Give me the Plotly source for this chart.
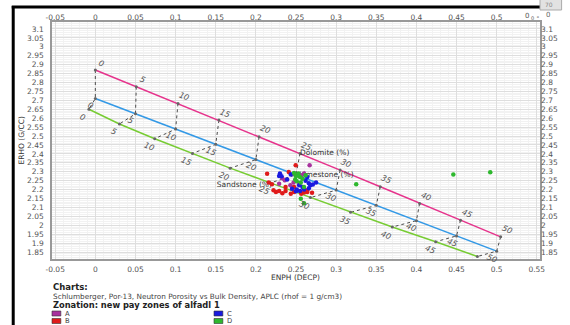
import plotly.graph_objects as go

# ---------------- data ----------------
phi_labels = ["0", "5", "10", "15", "20", "25", "30", "35", "40", "45", "50"]

dol_nphi = [0.0, 0.051, 0.103, 0.154, 0.204, 0.255, 0.305, 0.355, 0.404, 0.455, 0.505]
dol_rhob = [2.87, 2.7765, 2.683, 2.5895, 2.496, 2.4025, 2.309, 2.2155, 2.122, 2.0285, 1.935]

lime_nphi = [0.0, 0.05, 0.10, 0.15, 0.20, 0.25, 0.30, 0.35, 0.40, 0.45, 0.50]
lime_rhob = [2.71, 2.6245, 2.539, 2.4535, 2.368, 2.2825, 2.197, 2.1115, 2.026, 1.9405, 1.855]

sand_nphi = [-0.008, 0.030, 0.074, 0.121, 0.168, 0.218, 0.268, 0.318, 0.370, 0.424, 0.476]
sand_rhob = [2.65, 2.5675, 2.485, 2.4025, 2.32, 2.2375, 2.155, 2.0725, 1.99, 1.9075, 1.825]

zone_a_x = [0.267, 0.260, 0.236, 0.229, 0.254, 0.243, 0.233, 0.257, 0.247]
zone_a_y = [2.336, 2.290, 2.252, 2.233, 2.230, 2.224, 2.263, 2.280, 2.240]

zone_b_x = [0.2496, 0.214, 0.241, 0.222, 0.225, 0.229, 0.233, 0.237, 0.2435, 0.2476,
            0.2565, 0.264, 0.220, 0.237, 0.2476, 0.264, 0.260, 0.270, 0.216]
zone_b_y = [2.336, 2.289, 2.298, 2.196, 2.186, 2.192, 2.180, 2.192, 2.177, 2.186,
            2.177, 2.186, 2.230, 2.214, 2.214, 2.196, 2.183, 2.182, 2.240]

zone_c_x = [0.230, 0.232, 0.2435, 0.264, 0.239, 0.266, 0.271, 0.251, 0.255, 0.260,
            0.268, 0.266, 0.254, 0.258, 0.229, 0.245, 0.250, 0.262, 0.275]
zone_c_y = [2.290, 2.274, 2.284, 2.270, 2.257, 2.235, 2.229, 2.200, 2.192, 2.200,
            2.224, 2.207, 2.224, 2.214, 2.276, 2.205, 2.190, 2.250, 2.240]

zone_d_x = [0.2476, 0.255, 0.249, 0.251, 0.256, 0.260, 0.253, 0.258, 0.262, 0.250,
            0.256, 0.260, 0.325, 0.446, 0.492]
zone_d_y = [2.293, 2.270, 2.257, 2.246, 2.149, 2.124, 2.290, 2.260, 2.280, 2.275,
            2.240, 2.215, 2.230, 2.285, 2.297]

x_ticks = [-0.05, 0, 0.05, 0.1, 0.15, 0.2, 0.25, 0.3, 0.35, 0.4, 0.45, 0.5, 0.55]
x_tick_text = ["-0.05", "0", "0.05", "0.1", "0.15", "0.2", "0.25", "0.3", "0.35", "0.4", "0.45", "0.5", "0.55"]
x_top_ticks = [-0.05, 0, 0.05, 0.1, 0.15, 0.2, 0.25, 0.3, 0.35, 0.4, 0.45, 0.5]
x_top_text = ["-0.05", "0", "0.05", "0.1", "0.15", "0.2", "0.25", "0.3", "0.35", "0.4", "0.45", "0.5"]
y_ticks = [1.85, 1.9, 1.95, 2.0, 2.05, 2.1, 2.15, 2.2, 2.25, 2.3, 2.35, 2.4, 2.45, 2.5,
           2.55, 2.6, 2.65, 2.7, 2.75, 2.8, 2.85, 2.9, 2.95, 3.0, 3.05, 3.1]
y_tick_text = ["1.85", "1.9", "1.95", "2", "2.05", "2.1", "2.15", "2.2", "2.25", "2.3", "2.35",
               "2.4", "2.45", "2.5", "2.55", "2.6", "2.65", "2.7", "2.75", "2.8", "2.85", "2.9",
               "2.95", "3", "3.05", "3.1"]

zone_names = ["A", "B", "C", "D"]
zone_colors = ["#a8329e", "#e01b1b", "#1a1ae0", "#2eb82e"]

# ---------------- layout helpers ----------------
W, H = 570, 325
L, R, T, B = 52, 549, 22, 259


def px(x):
    return (x - L) / (R - L)


def py(y):
    return (B - y) / (B - T)


FONT = "DejaVu Sans"
fig = go.Figure()

# connectors (dotted)
cx, cy = [], []
for i in range(len(phi_labels)):
    cx += [dol_nphi[i], lime_nphi[i], sand_nphi[i], None]
    cy += [dol_rhob[i], lime_rhob[i], sand_rhob[i], None]
fig.add_trace(go.Scatter(x=cx, y=cy, mode="lines", line=dict(color="#4d4d4d", width=1, dash="dot"),
                         hoverinfo="skip", showlegend=False))

# lithology lines
for xs, ys, col in [(dol_nphi, dol_rhob, "#e6338c"),
                    (lime_nphi, lime_rhob, "#3399e6"),
                    (sand_nphi, sand_rhob, "#77cc33")]:
    fig.add_trace(go.Scatter(x=xs, y=ys, mode="lines+markers", line=dict(color=col, width=1.5),
                             marker=dict(size=3, color="#666666"), hoverinfo="skip", showlegend=False))

# lithology names (as text traces so points can sit over them)
fig.add_trace(go.Scatter(x=[dol_nphi[5]], y=[dol_rhob[5]], mode="text", text=["Dolomite (%)"],
                         textposition="middle right", textfont=dict(family=FONT, size=7.5, color="#333"),
                         showlegend=False, hoverinfo="skip"))
fig.add_trace(go.Scatter(x=[lime_nphi[5] + 0.004], y=[lime_rhob[5]], mode="text", text=["Limestone (%)"],
                         textposition="middle right", textfont=dict(family=FONT, size=7.5, color="#333"),
                         showlegend=False, hoverinfo="skip"))
fig.add_trace(go.Scatter(x=[sand_nphi[5] + 0.002], y=[sand_rhob[5] - 0.014], mode="text", text=["Sandstone (%)"],
                         textposition="middle left", textfont=dict(family=FONT, size=7.5, color="#333"),
                         showlegend=False, hoverinfo="skip"))

# zone points
for name, col, xs, ys in zip(zone_names, zone_colors,
                             [zone_a_x, zone_b_x, zone_c_x, zone_d_x],
                             [zone_a_y, zone_b_y, zone_c_y, zone_d_y]):
    fig.add_trace(go.Scatter(x=xs, y=ys, mode="markers", name=name,
                             marker=dict(size=4.5, color=col), showlegend=False))

# dummy trace for the secondary (top/right) axes
fig.add_trace(go.Scatter(x=[None], y=[None], xaxis="x2", yaxis="y2", showlegend=False))

annotations = []
# porosity labels along the lines
lab_font = dict(family=FONT, size=8, color="#555")
for i, lab in enumerate(phi_labels):
    annotations.append(dict(x=dol_nphi[i], y=dol_rhob[i], xref="x", yref="y", text="<i>%s</i>" % lab,
                            showarrow=False, xshift=6, yshift=7, textangle=22, font=lab_font,
                            xanchor="center", yanchor="middle"))
    if lab != "25":
        annotations.append(dict(x=lime_nphi[i], y=lime_rhob[i], xref="x", yref="y", text="<i>%s</i>" % lab,
                                showarrow=False, xshift=-5, yshift=-7, textangle=22, font=lab_font,
                                xanchor="center", yanchor="middle"))
    if lab != "50":
        annotations.append(dict(x=sand_nphi[i], y=sand_rhob[i], xref="x", yref="y", text="<i>%s</i>" % lab,
                                showarrow=False, xshift=-6, yshift=-8, textangle=22, font=lab_font,
                                xanchor="center", yanchor="middle"))


def ptext(x, y, text, size, color, xanchor="center", angle=0):
    annotations.append(dict(x=px(x), y=py(y), xref="paper", yref="paper", text=text, showarrow=False,
                            xanchor=xanchor, yanchor="middle", textangle=angle,
                            font=dict(family=FONT, size=size, color=color)))


# axis titles
ptext(300, 277, "ENPH (DECP)", 7.5, "#333")
ptext(20, 140, "ERHO (G/CC)", 7.5, "#333", angle=-90)

# text below chart
ptext(51, 287, "<b>Charts:</b>", 8.5, "#222", xanchor="left")
ptext(51, 296.5, "Schlumberger, Por-13, Neutron Porosity vs Bulk Density, APLC (rhof = 1 g/cm3)",
      7.3, "#444", xanchor="left")
ptext(51, 305, "<b>Zonation: new pay zones of alfadl 1</b>", 8.3, "#222", xanchor="left")

shapes = []
legend_pos = [(52, 313.5), (52, 321), (217, 313.5), (217, 321)]
legend_order = ["A", "B", "C", "D"]
for name, (lx, ly) in zip(legend_order, legend_pos):
    col = zone_colors[zone_names.index(name)]
    shapes.append(dict(type="rect", xref="paper", yref="paper", x0=px(lx), x1=px(lx + 9),
                       y0=py(ly + 2.5), y1=py(ly - 2.5), fillcolor=col, line=dict(color="#333", width=0.6)))
    ptext(lx + 11, ly, name, 6.8, "#444", xanchor="left")

# window border artifacts
shapes.append(dict(type="line", xref="paper", yref="paper", x0=px(12.5), x1=px(12.5), y0=py(6), y1=py(330),
                   line=dict(color="black", width=3)))
shapes.append(dict(type="line", xref="paper", yref="paper", x0=px(11), x1=px(549), y0=py(7), y1=py(7),
                   line=dict(color="black", width=3)))
shapes.append(dict(type="rect", xref="paper", yref="paper", x0=px(549), x1=px(571), y0=py(10), y1=py(-1),
                   fillcolor="#e2e2e2", line=dict(color="#aaa", width=1)))
ptext(558, 4, "70", 6, "#888")
ptext(557, 15, "0", 7, "#666")
ptext(536, 16, "0", 7, "#555")
ptext(541, 18, "0", 5, "#555")
ptext(546.5, 16, "\u2218", 6, "#555")

xrange = [-0.054, 0.554]
yrange = [1.811, 3.139]
tickfont = dict(family=FONT, size=7.5, color="#555")

fig.update_layout(
    width=W, height=H,
    margin=dict(l=L, r=W - R, t=T, b=H - B, pad=0),
    paper_bgcolor="white", plot_bgcolor="white",
    showlegend=False,
    xaxis=dict(range=xrange, tickvals=x_ticks, ticktext=x_tick_text, tickfont=tickfont,
               showgrid=True, gridcolor="#dedede", gridwidth=1, zeroline=False,
               minor=dict(dtick=0.01, tick0=0, showgrid=True, gridcolor="#f2f2f2", gridwidth=1),
               showline=True, linecolor="#999", linewidth=1.5, mirror=True, ticks="", ticklabelstandoff=2),
    yaxis=dict(range=yrange, tickvals=y_ticks, ticktext=y_tick_text, tickfont=tickfont,
               showgrid=True, gridcolor="#dedede", gridwidth=1, zeroline=False,
               minor=dict(dtick=0.01, tick0=0, showgrid=True, gridcolor="#f2f2f2", gridwidth=1),
               showline=True, linecolor="#999", linewidth=1.5, mirror=True, ticks="", ticklabelstandoff=5),
    xaxis2=dict(range=xrange, overlaying="x", side="top", anchor="y", matches="x", tickvals=x_top_ticks,
                ticktext=x_top_text, tickfont=tickfont, showgrid=False, zeroline=False, ticks="",
                showline=False),
    yaxis2=dict(range=yrange, overlaying="y", side="right", anchor="x", matches="y", tickvals=y_ticks,
                ticktext=y_tick_text, tickfont=tickfont, showgrid=False, zeroline=False, ticks="",
                showline=False),
    annotations=annotations,
    shapes=shapes,
)

fig.write_html("out.html")
